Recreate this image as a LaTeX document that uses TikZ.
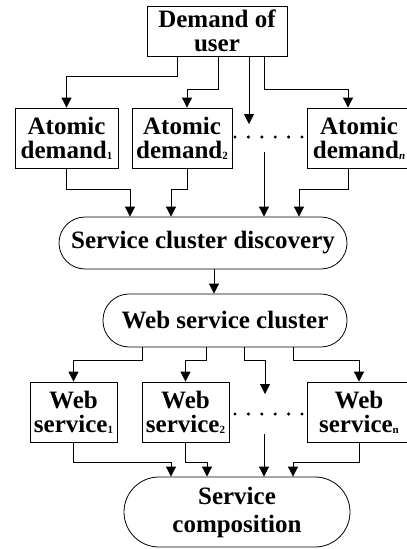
\documentclass[tikz,border=0pt]{standalone}
\usepackage{fontspec}
\setmainfont{Liberation Serif}
\usetikzlibrary{arrows.meta}
\newcommand\low[1]{\raisebox{-1pt}{\fontsize{11}{11}\selectfont #1}}
\begin{document}
\begin{tikzpicture}[x=1pt, y=-1pt, line width=0.8pt]

\tikzstyle{every node} = [font=\fontsize{25}{24}\selectfont\bfseries, align=center, inner sep=0pt]
\tikzstyle{box} = [rectangle, draw, minimum height=60pt]
\tikzstyle{pill} = [rectangle, draw, rounded corners=26pt, minimum height=52pt]
\tikzstyle{arr} = [-{Triangle[width=10pt,length=10pt]}]

\clip (0,0) rectangle (407,549);

\node[box, minimum width=140pt, minimum height=50pt] (dem) at (217,31) {Demand of\\user};

\node[box, minimum width=103pt] (a1) at (66.5,138) {Atomic\\demand\low{1}};
\node[box, minimum width=100pt] (a2) at (182,138) {Atomic\\demand\low{2}};
\node[box, minimum width=104pt] (an) at (359,138) {Atomic\\demand\low{\textit{n}}};

\node[pill, minimum width=288pt] (disc) at (203,243) {Service cluster discovery};
\node[pill, minimum width=244pt, minimum height=53pt] (clus) at (225,320.5) {Web service cluster};

\node[box, minimum width=87pt] (w1) at (73.5,412) {Web\\service\low{1}};
\node[box, minimum width=87pt] (w2) at (185.5,412) {Web\\service\low{2}};
\node[box, minimum width=104pt] (wn) at (359,412) {Web\\service\low{n}};

\node[rectangle, draw, rounded corners=35pt, minimum width=226pt, minimum height=70pt,
  font=\fontsize{25}{28}\selectfont\bfseries] (comp) at (237,512) {Service\\composition};

\coordinate (g1) at (249,124);
\coordinate (g2) at (264,152);
\coordinate (g3) at (265,394);
\coordinate (g4) at (264,434);

% dots between the boxes
\foreach \i in {0,...,5} {
  \fill (235+13.4*\i,137) circle (1.7pt);
  \fill (235+13.4*\i,414) circle (1.7pt);
}

\draw[arr] ([xshift=-40pt]dem.south) -- ++(0,20) -| (a1.north);
\draw[arr] ([xshift=1pt]dem.south) -- ++(0,33) -| ([xshift=5pt]a2.north);
\draw[arr] ([xshift=32pt]dem.south) -- (g1);
\draw[arr] ([xshift=47pt]dem.south) -- ++(0,33) -| ([xshift=-11pt]an.north);

\draw[arr] (a1.south) -- ++(0,21) -| ([xshift=-73pt]disc.north);
\draw[arr] ([xshift=5pt]a2.south) -- ++(0,21) -| ([xshift=-32pt]disc.north);
\draw[arr] (g2) -- (g2 |- disc.north);
\draw[arr] ([xshift=-11pt]an.south) -- ++(0,21) -| ([xshift=96pt]disc.north);

\draw[arr] ([xshift=11pt]disc.south) -- ([xshift=11pt]disc.south |- clus.north);

\draw[arr] ([xshift=-83pt]clus.south) -- ++(0,13) -| (w1.north);
\draw[arr] ([xshift=-19pt]clus.south) -- ++(0,13) -| (w2.north);
\draw[arr] ([xshift=19pt]clus.south) -- ++(0,13) -| (g3);
\draw[arr] ([xshift=68pt]clus.south) -- ++(0,13) -| (wn.north);

\draw[arr] (w1.south) -- ++(0,20) -| ([xshift=-66pt]comp.north);
\draw[arr] (w2.south) -- ++(0,20) -| ([xshift=-30pt]comp.north);
\draw[arr] (g4) -- (g4 |- comp.north);
\draw[arr] (wn.south) -- ++(0,20) -| ([xshift=56pt]comp.north);
\end{tikzpicture}
\end{document}
